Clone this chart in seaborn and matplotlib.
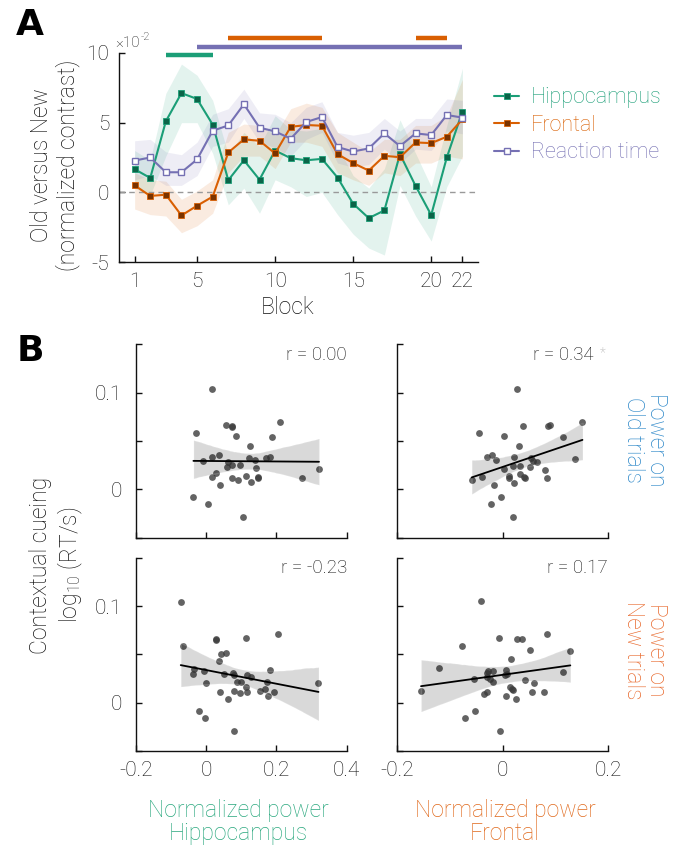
import numpy as np
import pandas as pd
import matplotlib
matplotlib.use('Agg')
import matplotlib.pyplot as plt
import seaborn as sns
from matplotlib.lines import Line2D

# ---------------- data: panel A ----------------
blocks = list(range(1, 23))
hipp = [1.66, 1.03, 5.1, 7.12, 6.7, 4.86, 0.87, 2.3, 0.91, 3.0, 2.45, 2.3, 2.4, 1.06,
        -0.82, -1.85, -1.3, 2.74, 0.46, -1.63, 2.5, 5.8]
hipp_lo = [0.3, -0.2, 2.6, 5.0, 5.0, 2.8, -0.9, 0.3, -1.5, 0.9, 0.4, -0.3, 0.0, -1.6,
           -3.0, -4.0, -4.5, 0.5, -1.7, -3.5, 0.4, 2.6]
hipp_hi = [3.0, 2.3, 7.1, 9.2, 8.4, 6.6, 2.7, 4.3, 3.3, 5.5, 4.5, 4.4, 4.6, 3.3,
           1.2, 0.3, 1.7, 5.2, 2.8, 0.4, 4.8, 8.9]
front = [0.5, -0.26, -0.17, -1.66, -0.96, -0.31, 2.86, 3.8, 3.7, 2.79, 4.7, 4.83, 4.78,
         2.74, 2.1, 1.56, 2.62, 2.52, 3.58, 3.53, 3.99, 5.24]
front_lo = [-1.2, -1.6, -1.7, -2.9, -2.4, -1.5, 1.4, 2.6, 2.6, 1.7, 3.6, 3.6, 3.3, 1.4,
            0.9, 0.5, 1.4, 1.2, 2.1, 2.1, 2.6, 2.4]
front_hi = [1.4, 0.9, 0.8, -0.5, 0.1, 0.9, 4.3, 4.9, 4.8, 4.1, 6.0, 6.4, 6.1, 4.3,
            3.6, 2.9, 3.8, 3.8, 4.8, 4.8, 5.5, 8.1]
rt = [2.28, 2.5, 1.44, 1.44, 2.36, 4.42, 4.8, 6.32, 4.64, 4.37, 3.85, 5.05, 5.4, 3.25,
      2.93, 3.15, 4.23, 3.32, 4.23, 4.11, 5.55, 5.36]
rt_lo = [0.9, 1.2, 0.5, 0.5, 1.2, 3.3, 3.6, 5.3, 3.6, 3.2, 2.6, 3.8, 4.3, 2.1, 1.8,
         2.0, 3.1, 2.1, 3.1, 3.0, 4.4, 4.2]
rt_hi = [3.7, 3.8, 2.9, 2.7, 3.6, 5.6, 6.0, 7.4, 5.7, 5.6, 5.0, 6.1, 6.5, 4.3, 4.1,
         4.3, 5.3, 4.4, 5.3, 5.3, 6.7, 6.6]
series_names = ['Hippocampus', 'Frontal', 'Reaction time']
# significance bars (start block, end block)
sig_hipp = [(3, 6)]
sig_rt = [(5, 22)]
sig_front = [(7, 13), (19, 21)]

# ---------------- data: panel B ----------------
hipp_old_x = [0.018, -0.029, 0.058, 0.075, 0.073, 0.211, 0.086, 0.187, 0.126, -0.009, 0.018,
              0.036, 0.061, 0.060, 0.075, 0.0955, 0.122, 0.140, 0.169, 0.182, 0.142, 0.029,
              0.016, 0.074, 0.090, 0.114, 0.148, 0.149, 0.127, 0.039, 0.272, 0.321, -0.036,
              0.0057, 0.104]
hipp_old_y = [0.104, 0.0586, 0.067, 0.0655, 0.064, 0.070, 0.055, 0.054, 0.045, 0.0297, 0.033,
              0.0355, 0.028, 0.0234, 0.0252, 0.0252, 0.0328, 0.0307, 0.032, 0.0338, 0.0217,
              0.0169, 0.0124, 0.0117, 0.0100, 0.0141, 0.0121, 0.0128, 0.0072, 0.0041, 0.0117,
              0.0207, -0.0076, -0.0148, -0.029]
front_old_x = [0.0265, -0.046, 0.039, 0.0866, 0.090, 0.151, 0.003, 0.115, 0.031, -0.0196,
               -0.029, -0.012, 0.022, 0.054, 0.058, 0.064, 0.0025, 0.019, 0.033, 0.052, 0.080,
               0.033, 0.0126, -0.039, -0.059, 0.041, 0.043, 0.084, 0.011, 0.136, 0.022, -0.016,
               -0.0038, -0.0215, 0.0196]
front_old_y = [0.104, 0.0586, 0.065, 0.0655, 0.0666, 0.070, 0.055, 0.054, 0.045, 0.0355,
               0.033, 0.0307, 0.0338, 0.0324, 0.0297, 0.028, 0.0214, 0.0245, 0.0245, 0.0234,
               0.0203, 0.0162, 0.0141, 0.0128, 0.0097, 0.0124, 0.0121, 0.0114, 0.0114, 0.0317,
               0.0066, 0.0041, -0.0083, -0.0152, -0.029]
hipp_new_x = [-0.072, -0.067, 0.027, 0.029, 0.113, 0.204, 0.042, 0.058, 0.038, -0.035, -0.037,
              -0.0066, 0.001, 0.050, 0.079, 0.076, 0.089, 0.098, 0.116, 0.128, 0.182, 0.172,
              0.1125, 0.040, 0.079, 0.096, 0.117, 0.153, 0.167, 0.193, 0.176, 0.0624, 0.3196,
              -0.019, -0.002, 0.079]
hipp_new_y = [0.1045, 0.0586, 0.0655, 0.0650, 0.067, 0.0707, 0.0507, 0.0517, 0.0428, 0.0348,
              0.0297, 0.0328, 0.020, 0.0293, 0.0286, 0.0303, 0.0217, 0.0214, 0.029, 0.0266,
              0.0341, 0.0214, 0.0166, 0.0114, 0.0124, 0.0097, 0.011, 0.0124, 0.0138, 0.011,
              0.0069, 0.0041, 0.0203, -0.0083, -0.0155, -0.0293]
front_new_x = [-0.0417, -0.0076, 0.0265, 0.036, 0.083, -0.0765, 0.051, 0.128, 0.015, -0.1207,
               -0.028, -0.019, 0.0057, 0.0088, 0.0044, -0.030, -0.029, -0.054, -0.025, -0.019,
               0.042, 0.060, 0.115, -0.155, 0.0139, 0.018, 0.020, -0.029, -0.035, 0.0057, 0.025,
               0.0556, 0.078, -0.052, -0.071, -0.005]
front_new_y = [0.1048, 0.0672, 0.0655, 0.0659, 0.0707, 0.0586, 0.055, 0.0538, 0.045, 0.0359,
               0.033, 0.033, 0.0341, 0.0297, 0.0286, 0.0303, 0.0266, 0.0245, 0.0241, 0.021,
               0.0231, 0.0203, 0.0317, 0.0124, 0.0166, 0.0141, 0.0128, 0.0107, 0.0093, 0.0069,
               0.0038, 0.011, 0.011, -0.0086, -0.0155, -0.0293]
r_labels = ['r = 0.00', 'r = 0.34', 'r = -0.23', 'r = 0.17']

# ---------------- style ----------------
sns.set_style('ticks')
FONT = ['Roboto', 'DejaVu Sans']
TXT = '#111111'
plt.rcParams.update({
    'font.family': FONT,
    'font.weight': 'light',
    'axes.unicode_minus': False,
    'xtick.direction': 'in', 'ytick.direction': 'in',
    'axes.edgecolor': TXT, 'xtick.color': TXT, 'ytick.color': TXT,
    'xtick.labelcolor': TXT, 'ytick.labelcolor': TXT, 'text.color': TXT,
    'axes.linewidth': 1.0,
    'mathtext.fontset': 'custom', 'mathtext.rm': 'Roboto', 'mathtext.it': 'Roboto',
})

GREEN, ORANGE, PURPLE = '#1b9e77', '#d95f02', '#7570b3'
GREEN_D, ORANGE_D = '#0b6448', '#7a3300'

fig = plt.figure(figsize=(6.79, 8.49), dpi=100)

# ---------------- panel A ----------------
axA = fig.add_axes([0.1753, 0.6914, 0.5287, 0.2462])
for lo, hi, c in [(hipp_lo, hipp_hi, GREEN), (front_lo, front_hi, ORANGE), (rt_lo, rt_hi, PURPLE)]:
    axA.fill_between(blocks, lo, hi, color=c, alpha=0.12, lw=0)
axA.axhline(0, color='#999999', lw=1, ls=(0, (4, 3)), zorder=1)

sns.lineplot(x=blocks, y=hipp, ax=axA, color=GREEN, lw=1.5, marker='s', markersize=4,
             markerfacecolor=GREEN_D, markeredgecolor=GREEN, markeredgewidth=0.6)
sns.lineplot(x=blocks, y=front, ax=axA, color=ORANGE, lw=1.5, marker='s', markersize=4,
             markerfacecolor=ORANGE_D, markeredgecolor=ORANGE, markeredgewidth=0.6)
sns.lineplot(x=blocks, y=rt, ax=axA, color=PURPLE, lw=1.5, marker='s', markersize=4.5,
             markerfacecolor='white', markeredgecolor=PURPLE, markeredgewidth=1.0)

for bars, yv, c in [(sig_hipp, 9.86, GREEN), (sig_rt, 10.43, PURPLE), (sig_front, 11.09, ORANGE)]:
    for s, e in bars:
        axA.plot([s, e], [yv, yv], color=c, lw=3.2, solid_capstyle='butt', clip_on=False)

axA.set_xlim(0, 23)
axA.set_ylim(-5, 10)
axA.set_xticks([1, 5, 10, 15, 20, 22])
axA.set_yticks([-5, 0, 5, 10])
axA.set_yticklabels(['-5', '0', '5', '10'])
axA.tick_params(labelsize=15, length=4, width=1)
axA.tick_params(axis='y', pad=7)
axA.tick_params(axis='x', pad=7)
sns.despine(ax=axA)
axA.set_xlabel('')
axA.set_ylabel('')

fig.text(0.424, 1 - 307 / 849, 'Block', ha='center', va='center', fontsize=16.5)
fig.text(0.081, 1 - 165 / 849, 'Old versus New\n(normalized contrast)', rotation=90,
         ha='center', va='center', fontsize=16.5, linespacing=1.15)
fig.text(115 / 679, 1 - 43 / 849, '×10', ha='left', va='center', fontsize=11)
fig.text(141 / 679, 1 - 37 / 849, '-2', ha='left', va='center', fontsize=8)
fig.text(30 / 679, 1 - 25 / 849, 'A', ha='center', va='center', fontsize=26,
         fontweight='bold', family=['DejaVu Sans'], color='black')
fig.text(30 / 679, 1 - 351 / 849, 'B', ha='center', va='center', fontsize=26,
         fontweight='bold', family=['DejaVu Sans'], color='black')

handles = [
    Line2D([0], [0], color=GREEN, lw=1.5, marker='s', ms=4, mfc=GREEN_D, mec=GREEN, mew=0.6),
    Line2D([0], [0], color=ORANGE, lw=1.5, marker='s', ms=4, mfc=ORANGE_D, mec=ORANGE, mew=0.6),
    Line2D([0], [0], color=PURPLE, lw=1.5, marker='s', ms=4.5, mfc='white', mec=PURPLE, mew=1.0),
]
leg = fig.legend(handles, series_names, loc='upper left', bbox_to_anchor=(0.727, 0.897),
                 frameon=False, fontsize=15.5, handlelength=1.2, handletextpad=0.55,
                 labelspacing=0.3, borderpad=0, borderaxespad=0)
for t, c in zip(leg.get_texts(), [GREEN, ORANGE, PURPLE]):
    t.set_color(c)

# ---------------- panel B ----------------
W, H = 0.3108, 0.2277
pos = [
    [0.1999, 1 - 537.6 / 849, W, H],
    [0.5851, 1 - 537.6 / 849, W, H],
    [0.1999, 1 - 751 / 849, W, H],
    [0.5851, 1 - 751 / 849, W, H],
]
datasets = [(hipp_old_x, hipp_old_y), (front_old_x, front_old_y),
            (hipp_new_x, hipp_new_y), (front_new_x, front_new_y)]
r_xpos = [1.0, 0.932, 1.0, 0.995]

for i, (p, (xs, ys)) in enumerate(zip(pos, datasets)):
    ax = fig.add_axes(p)
    df = pd.DataFrame({'x': xs, 'y': ys})
    sns.regplot(data=df, x='x', y='y', ax=ax, ci=95, n_boot=2000, seed=3,
                color='black',
                scatter_kws=dict(s=24, color='#3c3c3c', alpha=0.8, linewidths=0),
                line_kws=dict(lw=1.3, color='black'))
    left_col = (i % 2 == 0)
    if left_col:
        ax.set_xlim(-0.2, 0.4)
        ax.set_xticks([-0.2, 0, 0.2, 0.4])
        ax.set_xticklabels(['-0.2', '0', '0.2', '0.4'])
    else:
        ax.set_xlim(-0.2, 0.2)
        ax.set_xticks([-0.2, 0, 0.2])
        ax.set_xticklabels(['-0.2', '0', '0.2'])
    ax.set_ylim(-0.05, 0.15)
    ax.set_yticks([-0.05, 0, 0.05, 0.1, 0.15])
    if left_col:
        ax.set_yticklabels(['', '0', '', '0.1', ''])
    else:
        ax.set_yticklabels([])
    if i < 2:
        ax.set_xticklabels([])
    ax.tick_params(labelsize=15, length=4, width=1)
    ax.tick_params(axis='y', pad=10)
    ax.tick_params(axis='x', pad=7)
    sns.despine(ax=ax)
    ax.set_xlabel('')
    ax.set_ylabel('')
    ax.text(r_xpos[i], 0.945, r_labels[i], transform=ax.transAxes, ha='right', va='center',
            fontsize=13.5)
    if i == 1:
        ax.text(0.975, 0.955, '*', transform=ax.transAxes, ha='center', va='center',
                fontsize=10, color='#aaaaaa')

fig.text(57 / 679, 1 - 565 / 849, 'Contextual cueing\nlog$_{\\mathregular{10}}$ (RT/s)', rotation=90,
         ha='center', va='center', fontsize=16.5, linespacing=1.2)
fig.text(645 / 679, 1 - 440 / 849, 'Power on\nOld trials', rotation=-90, ha='center',
         va='center', fontsize=16.5, color='#2a86c8', linespacing=1.0)
fig.text(645 / 679, 1 - 650 / 849, 'Power on\nNew trials', rotation=-90, ha='center',
         va='center', fontsize=16.5, color='#e8692d', linespacing=1.0)
fig.text(238 / 679, 1 - 822 / 849, 'Normalized power\nHippocampus', ha='center', va='center',
         fontsize=16.5, color='#2aa87e', linespacing=1.0)
fig.text(505 / 679, 1 - 822 / 849, 'Normalized power\nFrontal', ha='center', va='center',
         fontsize=16.5, color='#e0691c', linespacing=1.0)

fig.savefig('out.png', dpi=100)
